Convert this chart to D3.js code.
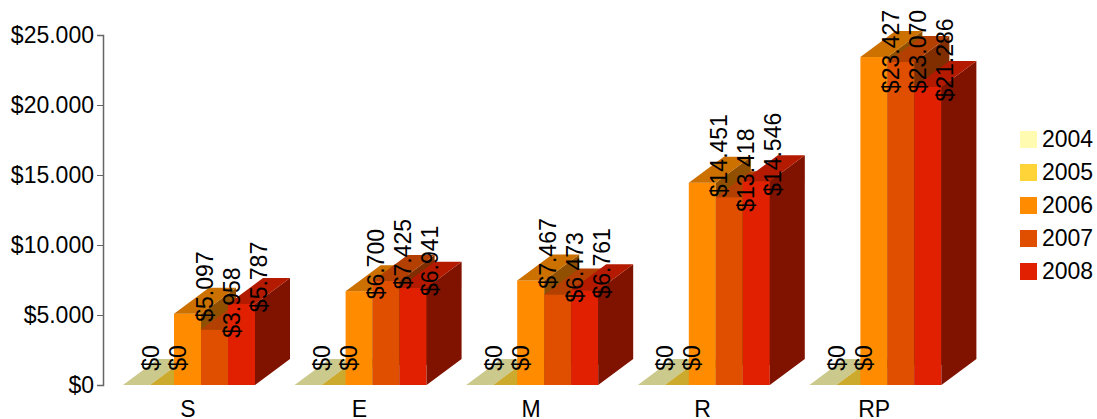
<!DOCTYPE html>
<html>
<head>
<meta charset="utf-8">
<script src="https://cdn.jsdelivr.net/npm/d3@7"></script>
<style>
html, body { margin: 0; padding: 0; background: #fff; }
svg { display: block; }
text { font-family: "Liberation Sans", Arial, sans-serif; font-size: 23px; fill: #000; }
</style>
</head>
<body>
<svg id="chart"></svg>
<script>
var categories = ["S", "E", "M", "R", "RP"]
var years = ["2004", "2005", "2006", "2007", "2008"]
var colors = ["#fffbb0", "#ffd438", "#ff8c00", "#e04f00", "#e02000"]

var values2004 = [0, 0, 0, 0, 0]
var values2005 = [0, 0, 0, 0, 0]
var values2006 = [5097, 6700, 7467, 14451, 23427]
var values2007 = [3958, 7425, 6473, 13418, 23070]
var values2008 = [5787, 6941, 6761, 14546, 21286]
var series = [values2004, values2005, values2006, values2007, values2008]

var y_ticks = [0, 5000, 10000, 15000, 20000, 25000]

var width = 1097, height = 419
var depth_x = 35, depth_y = 26

var svg = d3.select("#chart").attr("width", width).attr("height", height)

var x0 = d3.scaleBand().domain(categories).range([103, 961])
var x1 = d3.scaleBand().domain(years).range([17, 152])
var y = d3.scaleLinear().domain([0, 25000]).range([385, 35])

// dollar format with a dot as thousands separator
var money = d3.formatLocale({decimal: ",", thousands: ".", grouping: [3], currency: ["$", ""]}).format("$,.0f")

var rows = []
years.forEach(function(year, i){
	categories.forEach(function(cat, j){
		rows.push({year: year, cat: cat, value: series[i][j], color: colors[i]})
	})
})

var bars = svg.append("g").selectAll("g")
	.data(rows)
	.enter().append("g")

// empty bars sit 3px to the right of their slot in the original
function left(d){ return x0(d.cat) + x1(d.year) + (d.value == 0 ? 3 : 0) }
function right(d){ return left(d) + x1.bandwidth() }

function shade(c, k){
	var r = d3.rgb(c)
	return d3.rgb(r.r*k, r.g*k, r.b*k).formatHex()
}

// front, side, top for each bar, later years paint over earlier ones
bars.append("rect")
	.attr("x", left)
	.attr("y", function(d){ return y(d.value) })
	.attr("width", x1.bandwidth())
	.attr("height", function(d){ return y(0) - y(d.value) })
	.attr("fill", function(d){ return d.color })

bars.append("path")
	.attr("d", function(d){
		var p = d3.path()
		p.moveTo(right(d), y(d.value))
		p.lineTo(right(d) + depth_x, y(d.value) - depth_y)
		p.lineTo(right(d) + depth_x, y(0) - depth_y)
		p.lineTo(right(d), y(0))
		p.closePath()
		return p.toString()
	})
	.attr("fill", function(d){ return shade(d.color, 0.57) })

bars.append("path")
	.attr("d", function(d){
		var p = d3.path()
		p.moveTo(left(d), y(d.value))
		p.lineTo(left(d) + depth_x, y(d.value) - depth_y)
		p.lineTo(right(d) + depth_x, y(d.value) - depth_y)
		p.lineTo(right(d), y(d.value))
		p.closePath()
		return p.toString()
	})
	.attr("fill", function(d){ return shade(d.color, 0.8) })

// value labels sit on top of all bars, pushed down if they would leave the top
svg.append("g").selectAll("text")
	.data(rows)
	.enter().append("text")
	.text(function(d){ return money(d.value) })
	.attr("text-anchor", "middle")
	.attr("transform", function(d){
		var tx = x0(d.cat) + x1(d.year) + 38.5
		var half = this.getComputedTextLength()/2
		var ty = Math.max(y(d.value) - depth_y - 1, 10 + half)
		return "translate(" + tx + "," + ty + ") rotate(-90)"
	})

var y_axis = svg.append("g")
	.attr("transform", "translate(103,0)")
	.call(d3.axisLeft(y).tickValues(y_ticks).tickSize(6).tickPadding(3).tickFormat(money))
y_axis.select(".domain").attr("stroke", "#666").attr("stroke-width", 1.5)
y_axis.selectAll(".tick line").attr("stroke", "#666").attr("stroke-width", 1)
y_axis.selectAll("text").style("font-size", "23px").style("font-family", '"Liberation Sans", Arial, sans-serif')

svg.append("g").selectAll("text")
	.data(categories)
	.enter().append("text")
	.attr("text-anchor", "middle")
	.attr("x", function(d){ return x0(d) + x0.bandwidth()/2 - 1 })
	.attr("y", 417)
	.text(function(d){ return d })

var legend = svg.append("g").selectAll("g")
	.data(years)
	.enter().append("g")
	.attr("transform", function(d, i){ return "translate(1020," + (131 + i*33) + ")" })
legend.append("rect")
	.attr("width", 17)
	.attr("height", 17)
	.attr("fill", function(d, i){ return colors[i] })
legend.append("text")
	.attr("x", 22)
	.attr("y", 16)
	.text(function(d){ return d })
</script>
</body>
</html>
